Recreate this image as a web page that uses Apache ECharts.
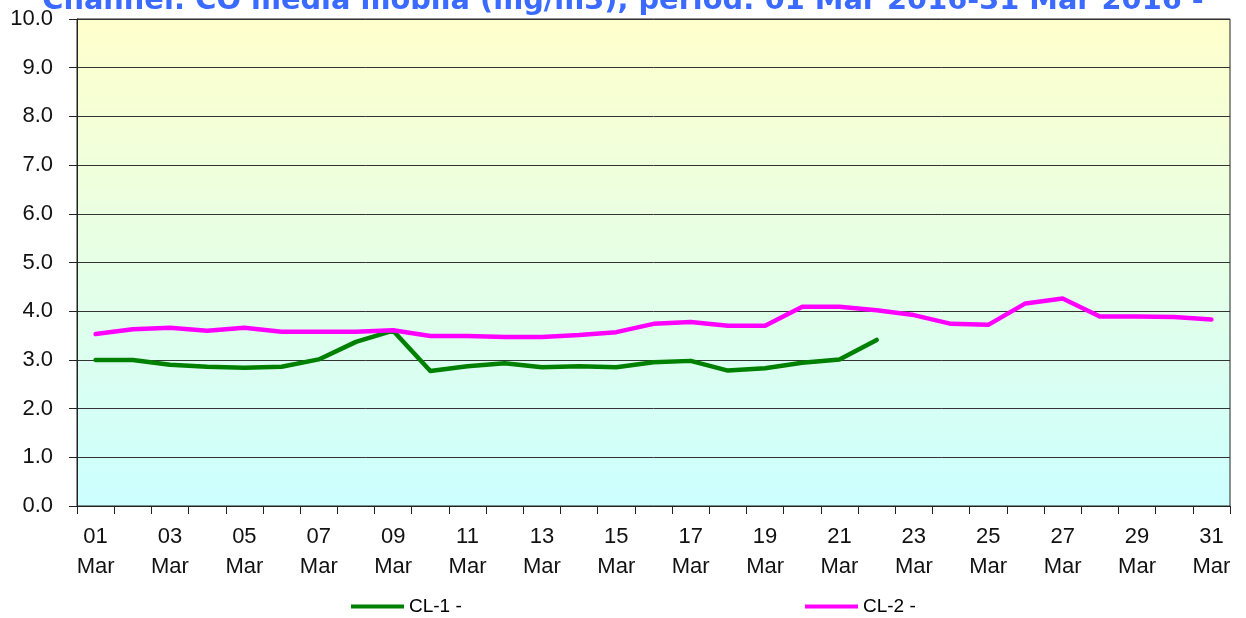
<!DOCTYPE html>
<html>
<head>
<meta charset="UTF-8">
<title>CO media mobila</title>
<script src="https://cdn.jsdelivr.net/npm/echarts@6/dist/echarts.min.js"></script>
<style>
  html, body { margin: 0; padding: 0; background: #fff; }
  #chart { width: 1246px; height: 618px; }
</style>
</head>
<body>
<div id="chart"></div>
<script>
// giorni del mese (01..31 Mar)
var days = [];
for (var d = 1; d <= 31; d++) {
    days.push((d < 10 ? '0' + d : '' + d) + '\nMar');
}

// valori (mg/m3)
var cl1 = [3.00, 3.00, 2.90, 2.86, 2.84, 2.86, 3.01, 3.37, 3.60, 2.77,
           2.87, 2.93, 2.85, 2.87, 2.85, 2.95, 2.98, 2.78, 2.83, 2.94,
           3.01, 3.41, null, null, null, null, null, null, null, null, null];
var cl2 = [3.53, 3.63, 3.66, 3.60, 3.66, 3.58, 3.58, 3.58, 3.61, 3.49,
           3.49, 3.47, 3.47, 3.51, 3.57, 3.74, 3.78, 3.70, 3.70, 4.09,
           4.09, 4.02, 3.92, 3.74, 3.72, 4.16, 4.26, 3.89, 3.89, 3.88, 3.83];

var legendText = { fontFamily: 'Liberation Sans', fontSize: 19, color: '#000' };

var chart = echarts.init(document.getElementById('chart'));
chart.setOption({
    animation: false,
    title: {
        text: 'Channel: CO media mobila (mg/m3), period: 01 Mar 2016-31 Mar 2016 -',
        left: 'center',
        top: -18,
        textStyle: {
            color: '#3a6aff',
            fontFamily: 'DejaVu Sans',
            fontWeight: 'bold',
            fontSize: 28.8
        }
    },
    legend: [{
        data: ['CL-1 -'],
        left: 346,
        top: 592,
        icon: 'rect',
        itemWidth: 53,
        itemHeight: 4,
        textStyle: legendText
    }, {
        data: ['CL-2 -'],
        left: 800,
        top: 592,
        icon: 'rect',
        itemWidth: 53,
        itemHeight: 4,
        textStyle: legendText
    }],
    grid: {
        left: 77,
        right: 16,
        top: 19,
        bottom: 112,
        show: true,
        borderColor: '#222',
        borderWidth: 1,
        backgroundColor: {
            type: 'linear', x: 0, y: 0, x2: 0, y2: 1,
            colorStops: [
                { offset: 0, color: '#ffffcc' },
                { offset: 1, color: '#ccffff' }
            ]
        }
    },
    xAxis: {
        type: 'category',
        data: days,
        boundaryGap: true,
        axisLine: { lineStyle: { color: '#222', width: 1 } },
        axisTick: { show: true, interval: 0, length: 8, lineStyle: { color: '#222' } },
        axisLabel: {
            interval: 1,
            color: '#111',
            fontFamily: 'Liberation Sans',
            fontSize: 22,
            lineHeight: 30,
            margin: 16
        }
    },
    yAxis: {
        type: 'value',
        min: 0,
        max: 10,
        interval: 1,
        axisLine: { show: true, lineStyle: { color: '#222', width: 1 } },
        axisTick: { show: true, length: 8, lineStyle: { color: '#222' } },
        splitLine: { show: true, lineStyle: { color: '#333', width: 1 } },
        axisLabel: {
            formatter: function (v) { return v.toFixed(1); },
            color: '#111',
            fontFamily: 'Liberation Sans',
            fontSize: 22,
            margin: 24
        }
    },
    series: [{
        name: 'CL-1 -',
        type: 'line',
        data: cl1,
        symbol: 'none',
        lineStyle: { color: '#008000', width: 4.5, cap: 'round', join: 'round' },
        itemStyle: { color: '#008000' }
    }, {
        name: 'CL-2 -',
        type: 'line',
        data: cl2,
        symbol: 'none',
        lineStyle: { color: '#ff00ff', width: 4.5, cap: 'round', join: 'round' },
        itemStyle: { color: '#ff00ff' }
    }]
});
</script>
</body>
</html>
